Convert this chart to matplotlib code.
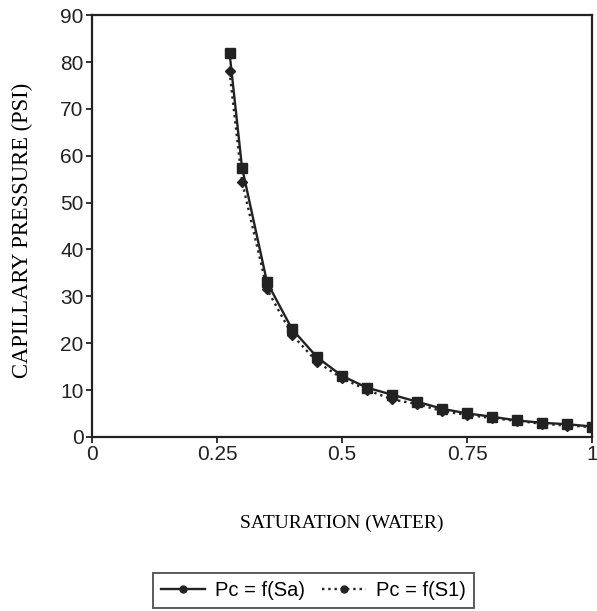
import matplotlib
matplotlib.use('Agg')
import matplotlib.pyplot as plt
from matplotlib.lines import Line2D

# Data
saturation = [0.275, 0.3, 0.35, 0.4, 0.45, 0.5, 0.55, 0.6, 0.65, 0.7, 0.75, 0.8, 0.85, 0.9, 0.95, 1.0]
pc_sa = [82, 57.5, 33, 23, 17, 13, 10.5, 9, 7.5, 6, 5, 4.3, 3.5, 3, 2.7, 2.2]
pc_s1 = [78, 54.5, 31.5, 21.8, 16, 12.5, 10, 8, 7, 5.5, 4.7, 4, 3.4, 2.8, 2.4, 2.1]

plt.rcParams['font.family'] = 'Liberation Sans'

fig = plt.figure(figsize=(5.97, 6.11), dpi=100)
ax = fig.add_axes([0.154, 0.285, 0.838, 0.69])

ax.plot(saturation, pc_sa, color='#222222', linestyle='-', linewidth=1.7,
        marker='s', markersize=6.5, label='Pc = f(Sa)')
ax.plot(saturation, pc_s1, color='#222222', linestyle=':', linewidth=1.7,
        marker='D', markersize=5.5, label='Pc = f(S1)')

ax.set_xlim(0, 1)
ax.set_ylim(0, 90)
ax.set_xticks([0, 0.25, 0.5, 0.75, 1])
ax.set_xticklabels(['0', '0.25', '0.5', '0.75', '1'])
ax.set_yticks(range(0, 91, 10))
ax.tick_params(direction='out', length=4, width=1.3, labelsize=15, colors='#222222', pad=2)
for s in ax.spines.values():
    s.set_linewidth(1.6)
    s.set_color('#222222')

ax.set_ylabel('CAPILLARY PRESSURE (PSI)', fontfamily='Liberation Serif', fontsize=16.3)
ax.yaxis.set_label_coords(-0.118, 0.49)
ax.set_xlabel('SATURATION (WATER)', fontfamily='Liberation Serif', fontsize=14, labelpad=36)

handles = [Line2D([], [], color='#222222', linestyle='-', linewidth=1.7, marker='o', markersize=5),
           Line2D([], [], color='#222222', linestyle=':', linewidth=1.7, marker='o', markersize=5)]
leg = fig.legend(handles, ['Pc = f(Sa)', 'Pc = f(S1)'], loc='center', bbox_to_anchor=(0.525, 0.033),
                 ncol=2, frameon=True, fancybox=False, fontsize=14.5, handlelength=2.2,
                 columnspacing=0.8, handletextpad=0.5, borderpad=0.4)
leg.get_frame().set_edgecolor('#222222')
leg.get_frame().set_linewidth(1.3)

plt.savefig('out.png', dpi=100)
